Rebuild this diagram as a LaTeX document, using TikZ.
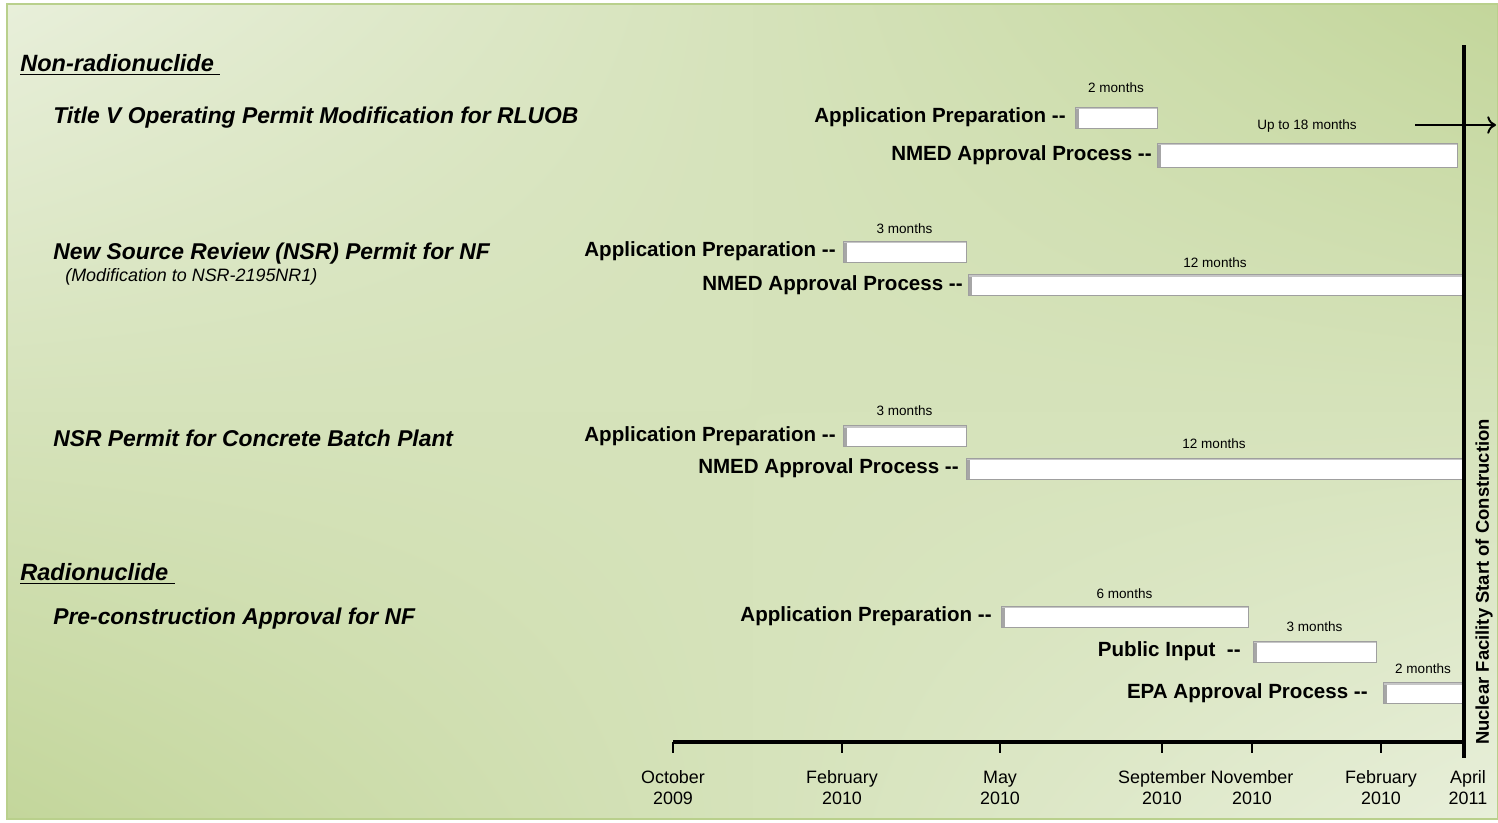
\documentclass[tikz,border=0pt]{standalone}
\usepackage{fontspec}
\setmainfont{Liberation Sans}
\usepackage{tikz}
\usetikzlibrary{positioning,shadings,arrows.meta}
\definecolor{bglight}{HTML}{E8EFDA}
\definecolor{bggreen}{HTML}{C3D69B}
\definecolor{bgline}{HTML}{B9D08C}
\tikzset{
  permitbar/.style={
    rectangle,
    fill=white,
    draw=gray!75, line width=0.5pt,
    minimum height=0.42cm,
    inner sep=0pt, outer sep=0pt,
    path picture={
      \fill[gray!70] (path picture bounding box.north west) rectangle ([xshift=0.07cm]path picture bounding box.south west);
      \fill[gray!45] (path picture bounding box.north west) rectangle ([yshift=-0.04cm]path picture bounding box.north east);
    }},
  steplbl/.style={font=\fontsize{11.7}{13}\selectfont\bfseries, inner sep=0pt},
  monthlbl/.style={font=\fontsize{7.7}{9}\selectfont, inner sep=0pt},
  titlelbl/.style={font=\fontsize{13}{15}\selectfont\bfseries\itshape, inner sep=0pt, anchor=west},
  seclbl/.style={font=\fontsize{13.4}{16}\selectfont\bfseries\itshape, inner sep=0pt, anchor=west},
  axislbl/.style={font=\fontsize{10.2}{12}\selectfont, align=center, inner sep=0pt},
  mainline/.style={line width=2pt},
}

\begin{document}
\begin{tikzpicture}
  [x=0.02cm, y=-0.02cm]
  \useasboundingbox (0,0) rectangle (1498,822);
  % background
  \shade[upper left=bglight, lower right=bglight, upper right=bggreen, lower left=bggreen]
    (7,4) rectangle (1498,819);
  \draw[bgline, line width=0.8pt] (7,4) rectangle (1498,819);

  %% headings on the left
  \node[seclbl] (nonrad) at (20,65) {\underline{Non-radionuclide\ }};
  \node[titlelbl] (tv) at (53,118) {Title V Operating Permit Modification for RLUOB};
  \node[titlelbl] (nsr) at (53,254) {New Source Review (NSR) Permit for NF};
  \node[anchor=west, inner sep=0pt, font=\fontsize{10.2}{12}\selectfont\itshape] (nsrsub) at (65,277) {(Modification to NSR-2195NR1)};
  \node[titlelbl] (cbp) at (53,438) {NSR Permit for Concrete Batch Plant};
  \node[seclbl] (rad) at (20,574) {\underline{Radionuclide\ }};
  \node[titlelbl] (pca) at (53,619) {Pre-construction Approval for NF};

  %% Title V
  \node[permitbar, minimum width=1.64cm] (tvap) at (1116,117.5) {};
  \node[steplbl, left=0.18cm of tvap] (tvaplbl) {Application Preparation -{}-};
  \node[monthlbl, above=0.28cm of tvap] (tvapm) {2 months};
  \node[permitbar, minimum width=6cm, minimum height=0.48cm] (tvnm) at (1307,155) {};
  \node[steplbl, left=0.1cm of tvnm] (tvnmlbl) {NMED Approval Process -{}-};
  \node[monthlbl, above=0.2cm of tvnm] (tvnmm) {Up to 18 months};
  \coordinate (arrs) at (1415,125);
  \coordinate (arre) at (1496,125);
  \draw[-{To[length=5pt,width=10pt]}, line width=1.1pt] (arrs) -- (arre);

  %% NSR for NF
  \node[permitbar, minimum width=2.46cm] (nsrap) at (904.5,251.5) {};
  \node[steplbl, left=0.14cm of nsrap] (nsraplbl) {Application Preparation -{}-};
  \node[monthlbl, above=0.14cm of nsrap] (nsrapm) {3 months};
  \node[permitbar, minimum width=9.88cm] (nsrnm) at (1215,285) {};
  \node[steplbl, left=0.1cm of nsrnm] (nsrnmlbl) {NMED Approval Process -{}-};
  \node[monthlbl, above=0.14cm of nsrnm] (nsrnmm) {12 months};

  %% Concrete Batch Plant
  \node[permitbar, minimum width=2.46cm] (cbpap) at (904.5,436) {};
  \node[steplbl, left=0.14cm of cbpap] (cbpaplbl) {Application Preparation -{}-};
  \node[monthlbl, above=0.2cm of cbpap] (cbpapm) {3 months};
  \node[permitbar, minimum width=9.92cm] (cbpnm) at (1214,468.5) {};
  \node[steplbl, left=0.14cm of cbpnm] (cbpnmlbl) {NMED Approval Process -{}-};
  \node[monthlbl, above=0.18cm of cbpnm] (cbpnmm) {12 months};

  %% Pre-construction
  \node[permitbar, minimum width=4.94cm] (pcaap) at (1124.5,616.5) {};
  \node[steplbl, left=0.18cm of pcaap] (pcaaplbl) {Application Preparation -{}-};
  \node[monthlbl, above=0.14cm of pcaap] (pcaapm) {6 months};
  \node[permitbar, minimum width=2.46cm] (pcapi) at (1314.5,651.5) {};
  \node[steplbl, left=0.24cm of pcapi] (pcapilbl) {Public Input\ \ -{}-};
  \node[monthlbl, above=0.18cm of pcapi] (pcapim) {3 months};
  \node[permitbar, minimum width=1.6cm] (pcaepa) at (1423,693) {};
  \node[steplbl, left=0.3cm of pcaepa] (pcaepalbl) {EPA Approval Process -{}-};
  \node[monthlbl, above=0.18cm of pcaepa] (pcaepam) {2 months};

  %% time axis and start of construction
  \coordinate (vtop) at (1464,45);
  \coordinate (vbot) at (1464,758);
  \coordinate (axs) at (673,742);
  \coordinate (axe) at (1464,742);
  \draw[mainline] (axs) -- (axe);
  \draw[line width=2.3pt] (vtop) -- (vbot);
  \foreach \tx/\mon/\yr [count=\i] in {673/October/2009, 842/February/2010, 1000/May/2010,
      1162/September/2010, 1252/November/2010, 1381/February/2010}{
    \draw[line width=0.6pt] (\tx,742) -- (\tx,753);
    \node[axislbl] (date\i) at (\tx,788) {\mon\\\yr};
  }
  \node[axislbl] (date7) at (1468,788) {April\\2011};
  \node[rotate=90, inner sep=0pt, font=\fontsize{10.5}{12}\selectfont\bfseries] (start) at (1484,582)
    {Nuclear Facility Start of Construction};
\end{tikzpicture}
\end{document}
